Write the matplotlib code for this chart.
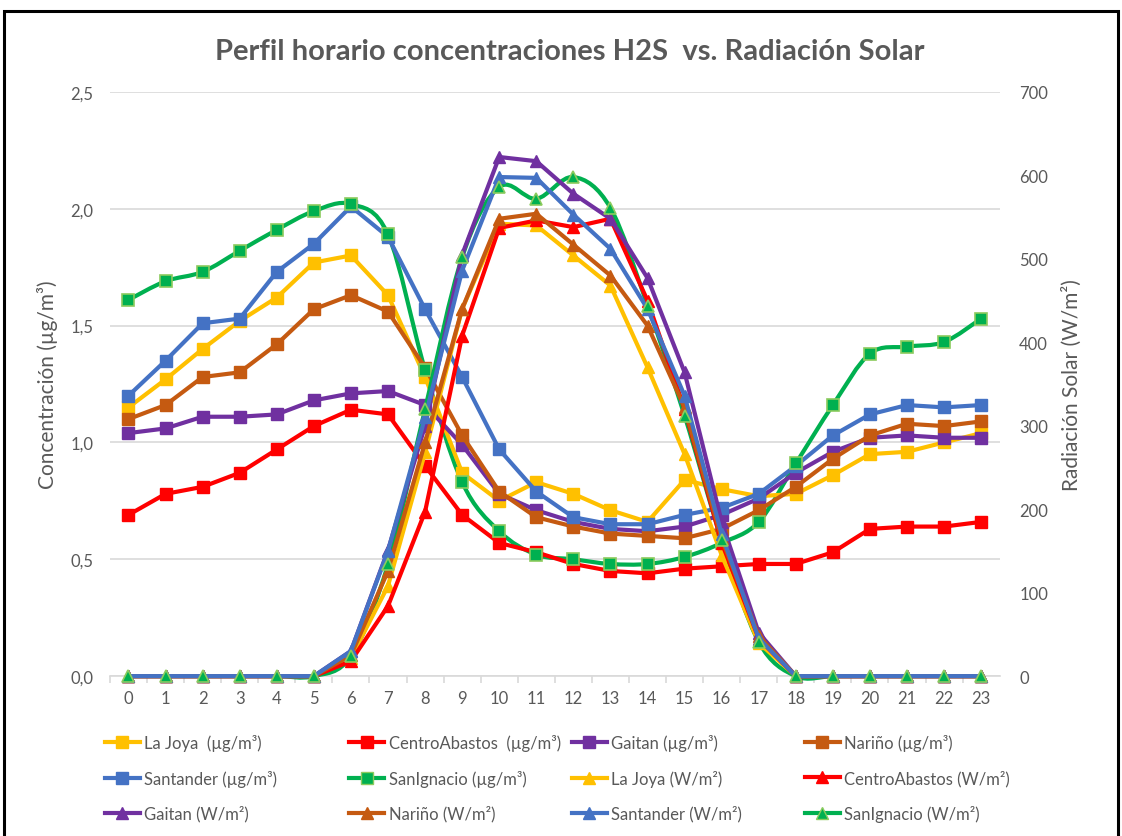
import matplotlib
matplotlib.use("Agg")
import matplotlib.pyplot as plt
from matplotlib.lines import Line2D
from matplotlib.path import Path
from matplotlib.patches import PathPatch, Rectangle
from matplotlib.ticker import FuncFormatter, MultipleLocator

plt.rcParams['font.family'] = ['Lato', 'DejaVu Sans']

hours = list(range(24))

# concentraciones H2S (ug/m3)
joya_conc = [1.15, 1.27, 1.40, 1.52, 1.62, 1.77, 1.80, 1.63, 1.28, 0.87, 0.75, 0.83,
             0.78, 0.71, 0.66, 0.84, 0.80, 0.77, 0.78, 0.86, 0.95, 0.96, 1.00, 1.04]
abastos_conc = [0.69, 0.78, 0.81, 0.87, 0.97, 1.07, 1.14, 1.12, 0.90, 0.69, 0.57, 0.53,
                0.48, 0.45, 0.44, 0.46, 0.47, 0.48, 0.48, 0.53, 0.63, 0.64, 0.64, 0.66]
gaitan_conc = [1.04, 1.06, 1.11, 1.11, 1.12, 1.18, 1.21, 1.22, 1.16, 0.99, 0.78, 0.71,
               0.66, 0.63, 0.62, 0.64, 0.69, 0.76, 0.87, 0.96, 1.02, 1.03, 1.02, 1.02]
narino_conc = [1.10, 1.16, 1.28, 1.30, 1.42, 1.57, 1.63, 1.56, 1.32, 1.03, 0.79, 0.68,
               0.64, 0.61, 0.60, 0.59, 0.63, 0.71, 0.81, 0.93, 1.03, 1.08, 1.07, 1.09]
santander_conc = [1.20, 1.35, 1.51, 1.53, 1.73, 1.85, 2.01, 1.88, 1.57, 1.28, 0.97, 0.79,
                  0.68, 0.65, 0.65, 0.69, 0.72, 0.78, 0.90, 1.03, 1.12, 1.16, 1.15, 1.16]
ignacio_conc = [1.61, 1.69, 1.73, 1.82, 1.91, 1.99, 2.02, 1.89, 1.31, 0.83, 0.62, 0.52,
                0.50, 0.48, 0.48, 0.51, 0.57, 0.66, 0.91, 1.16, 1.38, 1.41, 1.43, 1.53]

# radiacion solar (W/m2)
joya_rad = [0, 0, 0, 0, 0, 0, 22, 108, 268, 440, 542, 540,
            504, 468, 370, 266, 145, 40, 0, 0, 0, 0, 0, 0]
abastos_rad = [0, 0, 0, 0, 0, 0, 18, 84, 197, 408, 537, 546,
               538, 548, 450, 320, 160, 45, 0, 0, 0, 0, 0, 0]
gaitan_rad = [0, 0, 0, 0, 0, 0, 30, 151, 300, 505, 622, 617,
              578, 548, 477, 364, 185, 52, 0, 0, 0, 0, 0, 0]
narino_rad = [0, 0, 0, 0, 0, 0, 25, 126, 280, 440, 548, 554,
              517, 480, 420, 322, 165, 48, 0, 0, 0, 0, 0, 0]
santander_rad = [0, 0, 0, 0, 0, 0, 30, 150, 310, 486, 598, 597,
                 553, 512, 440, 336, 170, 45, 0, 0, 0, 0, 0, 0]
ignacio_rad = [0, 0, 0, 0, 0, 0, 24, 134, 320, 502, 586, 572,
               598, 561, 444, 312, 163, 41, 0, 0, 0, 0, 0, 0]

YELLOW, RED, PURPLE = '#FFC000', '#FF0000', '#7030A0'
BROWN, BLUE, GREEN = '#C55A11', '#4472C4', '#00B050'
GREEN_EDGE = '#8CCB5E'
GREY = '#595959'
GRID = '#D9D9D9'

conc_series = [
    ('La Joya  (µg/m³)', joya_conc, YELLOW, False),
    ('CentroAbastos  (µg/m³)', abastos_conc, RED, False),
    ('Gaitan (µg/m³)', gaitan_conc, PURPLE, False),
    ('Nariño (µg/m³)', narino_conc, BROWN, False),
    ('Santander (µg/m³)', santander_conc, BLUE, False),
    ('SanIgnacio (µg/m³)', ignacio_conc, GREEN, True),
]
rad_series = [
    ('La Joya (W/m²)', joya_rad, YELLOW, False),
    ('CentroAbastos (W/m²)', abastos_rad, RED, False),
    ('Gaitan (W/m²)', gaitan_rad, PURPLE, False),
    ('Nariño (W/m²)', narino_rad, BROWN, False),
    ('Santander (W/m²)', santander_rad, BLUE, False),
    ('SanIgnacio (W/m²)', ignacio_rad, GREEN, True),
]


def smooth_path(xs, ys):
    # cubic bezier through every point (catmull-rom style tangents)
    pts = list(zip(xs, ys))
    verts = [pts[0]]
    codes = [Path.MOVETO]
    n = len(pts)
    for i in range(n - 1):
        p0 = pts[i - 1] if i > 0 else pts[i]
        p1 = pts[i]
        p2 = pts[i + 1]
        p3 = pts[i + 2] if i + 2 < n else pts[i + 1]
        c1 = (p1[0] + (p2[0] - p0[0]) / 6, p1[1] + (p2[1] - p0[1]) / 6)
        c2 = (p2[0] - (p3[0] - p1[0]) / 6, p2[1] - (p3[1] - p1[1]) / 6)
        verts += [c1, c2, p2]
        codes += [Path.CURVE4] * 3
    return Path(verts, codes)


def draw(ax, series, marker, ms):
    handles = []
    for label, vals, color, smooth in series:
        edge = GREEN_EDGE if smooth else color
        if smooth:
            ax.add_patch(PathPatch(smooth_path(hours, vals), fill=False,
                                   edgecolor=color, lw=3.0, capstyle='round',
                                   joinstyle='round', clip_on=False))
            ax.plot(hours, vals, ls='none', marker=marker, ms=ms, mfc=color,
                    mec=edge, mew=1.2, clip_on=False)
        else:
            ax.plot(hours, vals, color=color, lw=3.0, marker=marker, ms=ms,
                    mfc=color, mec=edge, mew=1.0, solid_joinstyle='round',
                    clip_on=False)
        handles.append(Line2D([], [], color=color, lw=3.0, marker=marker,
                              ms=ms, mfc=color, mec=edge, mew=1.0, label=label))
    return handles


fig = plt.figure(figsize=(11.22, 8.37), dpi=100)
ax = fig.add_axes([0.098, 0.191, 0.793, 0.698])
ax2 = ax.twinx()

h1 = draw(ax, conc_series, 's', 8)
h2 = draw(ax2, rad_series, '^', 9)

ax.set_xlim(-0.5, 23.5)
ax.set_ylim(0, 2.5)
ax2.set_ylim(0, 700)
ax.yaxis.set_major_locator(MultipleLocator(0.5))
ax.yaxis.set_major_formatter(FuncFormatter(lambda v, p: f'{v:.1f}'.replace('.', ',')))
ax2.yaxis.set_major_locator(MultipleLocator(100))
ax.set_xticks(hours)
ax.set_xticks([h + 0.5 for h in hours[:-1]] + [-0.5], minor=True)

ax.grid(axis='y', color=GRID, lw=1.2)
ax.set_axisbelow(True)
for a in (ax, ax2):
    for side in ('top', 'left', 'right'):
        a.spines[side].set_visible(False)
    a.spines['bottom'].set_color(GRID)
    a.spines['bottom'].set_linewidth(1.2)
ax2.spines['bottom'].set_visible(False)

ax.tick_params(axis='x', which='major', length=0, pad=10, labelsize=12, labelcolor=GREY)
ax.tick_params(axis='x', which='minor', length=5, color=GRID, width=1.2)
ax.tick_params(axis='y', length=0, pad=12, labelsize=12, labelcolor=GREY)
ax2.tick_params(axis='y', length=0, pad=14, labelsize=12, labelcolor=GREY)

ax.set_ylabel('Concentración (µg/m³)', fontsize=15, color=GREY, labelpad=9)
ax2.set_ylabel('Radiación Solar (W/m²)', fontsize=15, color=GREY, labelpad=10)

fig.text(0.508, 0.938, 'Perfil horario concentraciones H2S  vs. Radiación Solar',
         ha='center', va='center', fontsize=21, fontweight='bold', color=GREY)

# one legend per column so the columns sit where the spreadsheet puts them
handles = h1 + h2
col_x = [0.086, 0.304, 0.502, 0.710]
for c, x in enumerate(col_x):
    hs = [handles[c], handles[c + 4], handles[c + 8]]
    fig.legend(hs, [h.get_label() for h in hs], loc='upper left',
               bbox_to_anchor=(x, 0.132), frameon=False, borderpad=0,
               fontsize=12, handlelength=2.1, handletextpad=0.25,
               labelspacing=1.12, labelcolor=GREY)

top = 1 - 12 / 837
fig.patches.append(Rectangle((0.004, -0.02), 0.992, top + 0.02,
                             transform=fig.transFigure, fill=False,
                             edgecolor='black', lw=2.2))

fig.savefig('out.png', dpi=100, facecolor='white')
